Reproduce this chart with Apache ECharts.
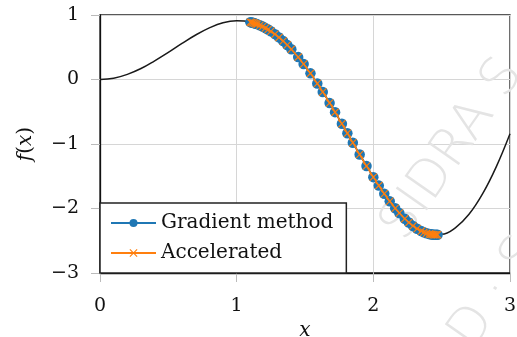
<!DOCTYPE html>
<html>
<head>
<meta charset="utf-8">
<script src="https://cdn.jsdelivr.net/npm/echarts@6/dist/echarts.min.js"></script>
<style>
  html, body { margin: 0; padding: 0; background: #fff; }
  #chart { width: 517px; height: 337px; }
</style>
</head>
<body>
<div id="chart"></div>
<script>
// f(x) curve
const curveX = [0, 0.1, 0.2, 0.3, 0.4, 0.5, 0.6, 0.7, 0.8, 0.9, 1.0, 1.1, 1.2, 1.3, 1.4, 1.5,
  1.6, 1.7, 1.8, 1.9, 2.0, 2.1, 2.2, 2.3, 2.4, 2.5, 2.6, 2.7, 2.8, 2.9, 3.0];
const curveY = [0, 0.02, 0.08, 0.17, 0.29, 0.42, 0.56, 0.69, 0.80, 0.88, 0.91, 0.89, 0.81, 0.67, 0.47, 0.21,
  -0.09, -0.43, -0.80, -1.16, -1.51, -1.83, -2.09, -2.29, -2.39, -2.40, -2.30, -2.09, -1.77, -1.35, -0.84];

// iterates of the two methods
const gradX = [1.10, 1.11, 1.12, 1.13, 1.14, 1.15, 1.17, 1.19, 1.21, 1.23, 1.25, 1.28, 1.31, 1.34, 1.37, 1.40,
  1.45, 1.49, 1.54, 1.59, 1.63, 1.68, 1.72, 1.77, 1.81, 1.85, 1.90, 1.95, 2.00, 2.04, 2.08, 2.12,
  2.16, 2.19, 2.23, 2.26, 2.29, 2.32, 2.35, 2.37, 2.39, 2.41, 2.42, 2.43, 2.44, 2.45, 2.46, 2.47];
const gradY = [0.889, 0.884, 0.878, 0.872, 0.865, 0.858, 0.841, 0.821, 0.799, 0.775, 0.748, 0.703, 0.653, 0.597, 0.536, 0.469,
  0.347, 0.240, 0.095, -0.061, -0.193, -0.364, -0.506, -0.687, -0.833, -0.980, -1.163, -1.341, -1.514, -1.645, -1.771, -1.888,
  -1.996, -2.070, -2.159, -2.218, -2.270, -2.314, -2.350, -2.369, -2.385, -2.396, -2.400, -2.404, -2.406, -2.407, -2.407, -2.406];
const accX = [1.10, 1.11, 1.12, 1.13, 1.14, 1.15, 1.17, 1.19, 1.21, 1.23, 1.25, 1.28, 1.31, 1.34, 1.37, 1.40,
  1.45, 1.49, 1.54, 1.59, 1.63, 1.68, 1.72, 1.77, 1.81, 1.85, 1.90, 1.95, 2.00, 2.04, 2.08, 2.12,
  2.16, 2.19, 2.23, 2.26, 2.29, 2.32, 2.35, 2.37, 2.39, 2.41, 2.42, 2.43, 2.44, 2.45, 2.46, 2.47];
const accY = [0.889, 0.884, 0.878, 0.872, 0.865, 0.858, 0.841, 0.821, 0.799, 0.775, 0.748, 0.703, 0.653, 0.597, 0.536, 0.469,
  0.347, 0.240, 0.095, -0.061, -0.193, -0.364, -0.506, -0.687, -0.833, -0.980, -1.163, -1.341, -1.514, -1.645, -1.771, -1.888,
  -1.996, -2.070, -2.159, -2.218, -2.270, -2.314, -2.350, -2.369, -2.385, -2.396, -2.400, -2.404, -2.406, -2.407, -2.407, -2.406];

const xTicks = [0, 1, 2, 3];
const yTicks = [-3, -2, -1, 0, 1];
const seriesNames = ['Gradient method', 'Accelerated'];

const zip = (xs, ys) => xs.map((x, i) => [x, ys[i]]);
const serif = 'DejaVu Serif';
const crossPath = 'path://M0,1L1,0L5,4L9,0L10,1L6,5L10,9L9,10L5,6L1,10L0,9L4,5Z';

const chart = echarts.init(document.getElementById('chart'), null, { renderer: 'canvas' });

const option = {
    animation: false,
    backgroundColor: '#fff',
    grid: {
        left: 100, right: 7, top: 15, bottom: 64,
        outerBoundsMode: 'none', containLabel: false,
        show: true, borderColor: '#222', borderWidth: 1.3
    },
    xAxis: {
        type: 'value',
        min: xTicks[0], max: xTicks[xTicks.length - 1], interval: 1,
        name: 'x', nameLocation: 'middle', nameGap: 48,
        nameTextStyle: { fontFamily: serif, fontStyle: 'italic', fontSize: 20, color: '#111' },
        axisLine: { show: true, onZero: false, lineStyle: { color: '#111', width: 1.3 } },
        axisTick: { show: true, inside: false, length: 9, lineStyle: { color: '#bbb' } },
        axisLabel: { margin: 24, fontFamily: serif, fontSize: 19, color: '#111' },
        splitLine: { show: true, lineStyle: { color: '#d6d6d6', width: 1 } }
    },
    yAxis: {
        type: 'value',
        min: yTicks[0], max: yTicks[yTicks.length - 1], interval: 1,
        name: '{i|f}({i|x})', nameLocation: 'middle', nameGap: 64, nameRotate: 90,
        nameTextStyle: {
            fontFamily: serif, fontSize: 20, color: '#111',
            rich: { i: { fontFamily: serif, fontStyle: 'italic', fontSize: 20, color: '#111' } }
        },
        axisLine: { show: true, onZero: false, lineStyle: { color: '#111', width: 1.3 } },
        axisTick: { show: true, inside: false, length: 9, lineStyle: { color: '#bbb' } },
        axisLabel: {
            margin: 21, fontFamily: serif, fontSize: 19, color: '#111',
            formatter: v => String(v).replace('-', '\u2212')
        },
        splitLine: { show: true, lineStyle: { color: '#d6d6d6', width: 1 } }
    },
    legend: {
        data: seriesNames,
        orient: 'vertical',
        left: 100, top: 203,
        itemWidth: 45, itemHeight: 10, itemGap: 10,
        padding: [10, 13, 10, 10],
        backgroundColor: '#fff',
        borderColor: '#222', borderWidth: 1.5, borderRadius: 0,
        textStyle: { fontFamily: serif, fontSize: 20, lineHeight: 20, color: '#111' }
    },
    graphic: [
        {
            type: 'text', left: 372, top: 50, z: 1, rotation: 0.96,
            style: { text: 'SIDRA S', fontFamily: 'DejaVu Sans', fontWeight: 200, fontSize: 52, fill: '#e4e4e4' }
        },
        {
            type: 'text', left: 440, top: 228, z: 1, rotation: 0.96,
            style: { text: 'D \u00b7 S', fontFamily: 'DejaVu Sans', fontWeight: 200, fontSize: 52, fill: '#e4e4e4' }
        }
    ],
    series: [
        {
            name: 'f',
            type: 'line',
            data: zip(curveX, curveY),
            smooth: 0.4,
            showSymbol: false,
            lineStyle: { color: '#1a1a1a', width: 1.5 },
            z: 2
        },
        {
            name: seriesNames[0],
            type: 'line',
            data: zip(gradX, gradY),
            symbol: 'circle', symbolSize: 10.5,
            lineStyle: { color: '#1f77b4', width: 1.5 },
            itemStyle: { color: '#1f77b4' },
            z: 3
        },
        {
            name: seriesNames[1],
            type: 'line',
            data: zip(accX, accY),
            symbol: crossPath, symbolSize: 8,
            lineStyle: { color: '#ff7f0e', width: 1.5 },
            itemStyle: { color: '#ff7f0e' },
            z: 4
        }
    ]
};

chart.setOption(option);
</script>
</body>
</html>
